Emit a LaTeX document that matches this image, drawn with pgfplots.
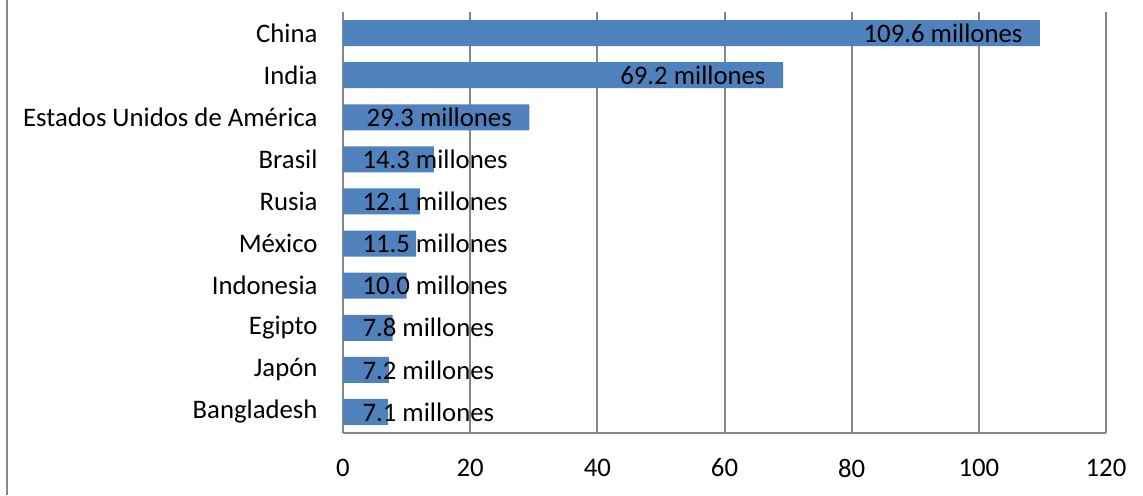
\documentclass[border=0pt]{standalone}
\usepackage{fontspec}
\setmainfont{Carlito}
\usepackage{pgfplots}
\pgfplotsset{compat=1.18}
\definecolor{barblue}{HTML}{4F81BD}
\definecolor{gridgray}{HTML}{878787}
\begin{document}
\begin{tikzpicture}
\useasboundingbox (0,0) rectangle (457.2pt,198pt);
\draw[gridgray, line width=0.8pt] (2.8pt,0) -- (2.8pt,198pt);
\begin{axis}[
    at={(137.2pt,24.8pt)}, anchor=south west,
    scale only axis, width=305.2pt, height=168.4pt,
    xmin=0, xmax=120, ymin=-0.5, ymax=9.5,
    y dir=reverse,
    axis x line=bottom, axis y line=left,
    axis line style={gridgray, line width=0.8pt, -},
    xtick={0,20,...,120},
    ytick={0,...,9},
    yticklabels={China, India, Estados Unidos de América, Brasil, Rusia, México, Indonesia, Egipto, Japón, Bangladesh},
    major tick length=0pt,
    xmajorgrids,
    major grid style={gridgray, line width=0.8pt},
    font=\fontsize{10.7}{12}\selectfont,
    /pgf/number format/assume math mode=true,
    xticklabel style={anchor=center, inner sep=0pt, yshift=-14pt},
    yticklabel style={anchor=east, inner sep=0pt, xshift=-10pt},
    clip=false,
]
\addplot[xbar, bar width=10.4pt, fill=barblue, draw=none] coordinates {
    (109.6,0) (69.2,1) (29.3,2) (14.3,3) (12.1,4)
    (11.5,5) (10.0,6) (7.8,7) (7.2,8) (7.1,9)
};
% labels inside the end of the long bars
\addplot[draw=none, mark=none, point meta=explicit symbolic,
    nodes near coords={\pgfplotspointmeta\ millones},
    every node near coord/.style={anchor=east, inner sep=0pt, xshift=-6.8pt, font=\fontsize{10.7}{12}\selectfont}]
    coordinates {(109.6,0) [109.6] (69.2,1) [69.2] (29.3,2) [29.3]};
% labels from the start of the short bars
\addplot[draw=none, mark=none, point meta=explicit symbolic,
    nodes near coords={\pgfplotspointmeta\ millones},
    every node near coord/.style={anchor=west, inner sep=0pt, xshift=7.6pt, font=\fontsize{10.7}{12}\selectfont}]
    coordinates {(0,3) [14.3] (0,4) [12.1] (0,5) [11.5] (0,6) [10.0]
                 (0,7) [7.8] (0,8) [7.2] (0,9) [7.1]};
\end{axis}
\end{tikzpicture}
\end{document}
